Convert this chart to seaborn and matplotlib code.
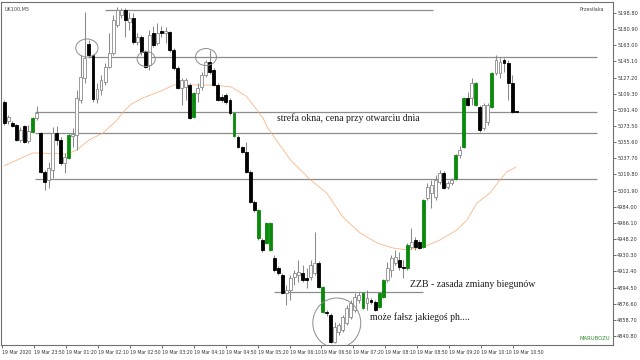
import matplotlib
matplotlib.use("Agg")
import matplotlib.pyplot as plt
from matplotlib.patches import Ellipse
import seaborn as sns
import pandas as pd
import numpy as np

# ---------------- data ----------------
opens = [5100.1, 5079.1, 5076.9, 5074.7, 5058.0, 5073.5, 5056.9, 5066.9, 5082.4, 5065.8,
         5022.6, 5013.7, 5024.8, 5065.8, 5058.0, 5032.5, 5038.1, 5062.5, 5063.6, 5102.4,
         5126.8, 5164.4, 5152.2, 5103.5, 5113.4, 5122.3, 5138.9, 5154.5, 5185.5, 5196.6,
         5202.1, 5188.8, 5193.2, 5166.7, 5172.2, 5155.6, 5141.2, 5176.6, 5165.5, 5178.9,
         5176.6, 5177.7, 5157.8, 5137.8, 5115.7, 5116.8, 5119.0, 5083.5, 5110.1, 5116.8,
         5130.1, 5144.5, 5135.6, 5119.0, 5105.7, 5107.9, 5102.4, 5087.9, 5061.4, 5050.3,
         5044.7, 5022.6, 4989.3, 4980.4, 4947.2, 4943.9, 4966.0, 4927.2, 4916.2, 4908.4,
         4888.4, 4891.8, 4906.2, 4908.4, 4910.6, 4905.1, 4906.2, 4910.6, 4921.7, 4895.1,
         4867.4, 4864.1, 4834.1, 4845.2, 4847.4, 4855.2, 4861.8, 4869.6, 4880.7, 4871.8,
         4877.4, 4880.7, 4878.5, 4872.9, 4884.0, 4902.8, 4913.9, 4921.7, 4925.0, 4917.3,
         4916.2, 4939.4, 4947.2, 4945.0, 4939.4, 4993.7, 4999.3, 4994.8, 5011.5, 5021.5,
         5005.9, 5010.4, 5014.8, 5041.4, 5050.3, 5104.6, 5104.6, 5121.2, 5094.6, 5071.3,
         5078.0, 5094.6, 5132.3, 5132.3, 5146.7, 5143.4, 5121.2, 5090.2]
highs = [5102.4, 5085.7, 5079.1, 5075.8, 5072.4, 5074.7, 5074.7, 5083.5, 5095.7, 5066.9,
         5024.8, 5033.6, 5072.4, 5073.5, 5061.4, 5043.6, 5065.8, 5071.3, 5113.4, 5152.2,
         5199.9, 5168.9, 5153.0, 5121.2, 5130.1, 5143.4, 5176.6, 5196.6, 5205.4, 5204.3,
         5204.3, 5199.9, 5198.8, 5176.6, 5174.4, 5157.8, 5180.0, 5184.4, 5187.7, 5184.4,
         5183.3, 5178.9, 5160.0, 5140.1, 5126.8, 5126.8, 5121.2, 5111.2, 5121.2, 5133.4,
         5146.7, 5157.8, 5137.8, 5121.2, 5109.0, 5110.1, 5104.6, 5089.1, 5063.6, 5051.4,
         5055.8, 5024.8, 4991.5, 4981.6, 4949.4, 4967.1, 4967.1, 4930.6, 4918.4, 4910.6,
         4897.3, 4908.4, 4913.9, 4925.0, 4919.5, 4916.2, 4925.0, 4956.1, 4923.9, 4896.2,
         4869.6, 4866.3, 4856.3, 4855.2, 4864.1, 4875.1, 4880.7, 4888.4, 4889.6, 4889.6,
         4891.8, 4882.9, 4880.7, 4889.6, 4904.0, 4922.8, 4930.6, 4936.1, 4933.9, 4925.0,
         4943.9, 4960.5, 4950.5, 4947.2, 4992.6, 5010.4, 5013.7, 5019.2, 5024.8, 5023.7,
         5012.6, 5015.9, 5042.5, 5051.4, 5105.7, 5111.2, 5126.8, 5122.3, 5096.8, 5099.0,
         5099.0, 5133.4, 5152.2, 5148.9, 5148.9, 5146.7, 5130.1, 5090.2]
lows = [5074.7, 5075.8, 5072.4, 5056.9, 5055.8, 5054.7, 5054.7, 5065.8, 5080.2, 5021.5,
        5002.6, 5004.8, 5015.9, 5052.5, 5030.3, 5021.5, 5037.0, 5050.3, 5046.9, 5099.0,
        5121.2, 5148.9, 5100.1, 5099.0, 5107.9, 5119.0, 5137.8, 5152.2, 5183.3, 5193.2,
        5172.2, 5180.0, 5164.4, 5163.3, 5152.2, 5137.8, 5135.6, 5161.1, 5163.3, 5172.2,
        5165.5, 5155.6, 5135.6, 5114.6, 5096.8, 5102.4, 5081.3, 5082.4, 5100.1, 5113.4,
        5127.9, 5131.2, 5117.9, 5101.2, 5100.1, 5097.9, 5085.7, 5061.4, 5049.2, 5043.6,
        5021.5, 4988.2, 4978.2, 4947.2, 4933.9, 4942.8, 4935.0, 4911.7, 4908.4, 4887.3,
        4875.1, 4880.7, 4897.3, 4900.6, 4900.6, 4894.0, 4902.8, 4908.4, 4894.0, 4866.3,
        4863.0, 4833.0, 4833.0, 4841.9, 4845.2, 4853.0, 4859.6, 4867.4, 4877.4, 4870.7,
        4869.6, 4876.3, 4868.5, 4871.8, 4882.9, 4900.6, 4906.2, 4919.5, 4913.9, 4905.1,
        4913.9, 4937.2, 4936.1, 4937.2, 4938.3, 4991.5, 4982.7, 4991.5, 5009.3, 5003.7,
        5003.7, 5008.1, 5013.7, 5038.1, 5049.2, 5095.7, 5096.8, 5095.7, 5066.9, 5069.1,
        5074.7, 5093.5, 5130.1, 5126.8, 5133.4, 5102.4, 5087.9, 5089.1]
closes = [5076.9, 5083.5, 5073.5, 5058.0, 5069.1, 5055.8, 5068.0, 5082.4, 5087.9, 5022.6,
          5011.5, 5027.0, 5065.8, 5058.0, 5032.5, 5039.2, 5063.6, 5064.7, 5104.6, 5127.9,
          5148.9, 5152.2, 5103.5, 5114.6, 5124.5, 5138.9, 5154.5, 5191.0, 5202.1, 5202.1,
          5191.0, 5193.2, 5166.7, 5172.2, 5155.6, 5138.9, 5174.4, 5163.3, 5176.6, 5176.6,
          5178.9, 5157.8, 5137.8, 5115.7, 5124.5, 5124.5, 5082.4, 5110.1, 5115.7, 5130.1,
          5144.5, 5133.4, 5119.0, 5102.4, 5102.4, 5100.1, 5087.9, 5062.5, 5050.3, 5044.7,
          5022.6, 4989.3, 4980.4, 4949.4, 4936.1, 4966.0, 4936.1, 4913.9, 4910.6, 4888.4,
          4891.8, 4905.1, 4910.6, 4911.7, 4902.8, 4902.8, 4919.5, 4921.7, 4895.1, 4867.4,
          4866.3, 4834.1, 4850.8, 4853.0, 4861.8, 4871.8, 4877.4, 4884.0, 4886.2, 4888.4,
          4882.9, 4878.5, 4869.6, 4888.4, 4902.8, 4916.2, 4927.2, 4928.3, 4917.3, 4916.2,
          4941.7, 4945.0, 4939.4, 4938.3, 4991.5, 5005.9, 5008.1, 5013.7, 5021.5, 5004.8,
          5010.4, 5013.7, 5041.4, 5046.9, 5104.6, 5096.8, 5121.2, 5096.8, 5069.1, 5096.8,
          5096.8, 5132.3, 5146.7, 5144.5, 5143.4, 5121.2, 5089.1, 5089.1]
# indices of candles drawn in green
green_bars = [7, 16, 47, 57, 63, 65, 66, 79, 89, 93, 94, 100, 104, 112, 114, 117, 121]

# moving average (bar index, price)
ma_idx = [0, 7, 9, 15.5, 18, 21, 24.5, 28, 29.5, 31.5, 34.4, 39.4, 42, 48, 51.8, 56.3, 60,
          64.2, 65.2, 71, 76, 80, 84, 88.3, 92.5, 96.5, 100, 104, 108.1, 112.3, 114.8,
          117.3, 120.5, 123, 124.7, 127]
ma_val = [5029.5, 5043.6, 5043.6, 5042.5, 5046.9, 5058.0, 5065.8, 5080.2, 5089.1, 5097.9,
          5104.6, 5113.4, 5119.0, 5119.0, 5119.0, 5116.8, 5106.8, 5082.4, 5072.4, 5035.9,
          5013.7, 4999.3, 4972.7, 4955.0, 4943.9, 4938.3, 4936.1, 4939.4, 4947.2, 4958.3,
          4969.4, 4988.2, 4999.3, 5013.7, 5022.6, 5028.1]

# horizontal levels: price, start bar, end bar
level_price = [5201.8, 5150.0, 5088.7, 5065.5, 5014.5, 4889.6]
level_start = [25.0, 20.8, 7.6, 7.6, 7.6, 67.0]
level_end = [106.4, 147.0, 147.0, 147.0, 147.0, 104.0]

time_labels = ['19 Mar 2020', '19 Mar 23:50', '19 Mar 01:20', '19 Mar 02:10', '19 Mar 02:50',
               '19 Mar 03:20', '19 Mar 04:10', '19 Mar 04:50', '19 Mar 05:20', '19 Mar 06:10',
               '19 Mar 06:50', '19 Mar 07:20', '19 Mar 08:10', '19 Mar 08:50', '19 Mar 09:20',
               '19 Mar 10:10', '19 Mar 10:50']
price_ticks = [4840.8, 4858.7, 4876.6, 4894.5, 4912.4, 4930.3, 4948.2, 4966.1, 4984.0,
               5001.9, 5019.8, 5037.7, 5055.6, 5073.5, 5091.4, 5109.3, 5127.2, 5145.1,
               5163.0, 5180.9, 5198.8]

# ---------------- plot ----------------
sns.set_theme(style="white")
plt.rcParams['font.family'] = ['DejaVu Sans']

fig = plt.figure(figsize=(6.4, 3.6), dpi=100)
ax = fig.add_axes([1/640, 1 - 345/360, 612/640, 343/360])
ax.set_facecolor('white')

n = len(opens)
x = np.arange(n)
df = pd.DataFrame({'x': x, 'o': opens, 'h': highs, 'l': lows, 'c': closes})

# levels
for p, s, e in zip(level_price, level_start, level_end):
    ax.hlines(p, s, e, color='#8c8c8c', lw=0.9, zorder=1)

# moving average via seaborn
sns.lineplot(x=ma_idx, y=ma_val, ax=ax, color='#f9b07c', lw=0.55, zorder=2)

# wicks
ax.vlines(df['x'], df['l'], df['h'], color='#8a8a8a', lw=0.75, zorder=3)

# bodies
face, edge = [], []
for i in range(n):
    if i in green_bars:
        face.append('#0a8a0a'); edge.append('#0a8a0a')
    elif closes[i] >= opens[i]:
        face.append('white'); edge.append('#8a8a8a')
    else:
        face.append('black'); edge.append('black')
bottom = np.minimum(df['o'], df['c'])
height = np.maximum(np.abs(df['c'] - df['o']), 0.6)
ax.bar(df['x'], height, bottom=bottom, width=0.72, color=face, edgecolor=edge,
       linewidth=0.6, zorder=4)

# circles
for cx, cy, w, h in [(20.5, 5160.0, 5.5, 20.0), (35.2, 5147.8, 4.5, 16.6),
                     (50.05, 5150.0, 5.2, 18.8), (82.5, 4855.2, 11.9, 55.4)]:
    ax.add_patch(Ellipse((cx, cy), w, h, fill=False, ec='#8c8c8c', lw=0.7, zorder=5))

# annotations
serif = dict(family=['Liberation Serif', 'DejaVu Serif'], fontsize=7, color='#1a1a1a')
ax.text(67.7, 5082.4, 'strefa okna, cena przy otwarciu dnia', va='center', ha='left', **serif)
ax.text(100.7, 4898.4, 'ZZB - zasada zmiany biegunów', va='center', ha='left', **serif)
ax.text(90.7, 4861.8, 'może fałsz jakiegoś ph....', va='center', ha='left', **serif)

ax.text(0.006, 0.985, 'UK100,M5', transform=ax.transAxes, fontsize=3.5, color='#444444',
        va='top', ha='left')
ax.text(0.985, 0.985, 'Przesiłaka', transform=ax.transAxes, fontsize=3.5, color='#444444',
        va='top', ha='right')
ax.text(0.995, 0.012, 'MARUBOZU', transform=ax.transAxes, fontsize=3.8, color='#2e8b2e',
        va='bottom', ha='right')

# axes
ax.set_xlim((1 - 4.3) / 4.03, (613 - 4.3) / 4.03)
ax.set_ylim(4830.8, 5211.0)
ax.set_xlabel('')
ax.set_ylabel('')
ax.yaxis.tick_right()
ax.set_yticks(price_ticks)
ax.set_yticklabels([f'{v:.2f}' for v in price_ticks])
tick_pos = [-0.6 + 7.93 * k for k in range(len(time_labels))]
ax.set_xticks(tick_pos)
ax.set_xticklabels(time_labels, ha='left')
ax.tick_params(axis='y', which='both', right=True, length=2, width=0.5, pad=1,
               labelsize=3.6, colors='#333333')
ax.tick_params(axis='x', which='both', bottom=True, length=2, width=0.5, pad=1.5,
               labelsize=3.3, colors='#333333')
for sp in ax.spines.values():
    sp.set_color('#707070')
    sp.set_linewidth(0.8)
    sp.set_visible(True)
ax.grid(False)

fig.savefig('out.png', dpi=100, facecolor='white')
